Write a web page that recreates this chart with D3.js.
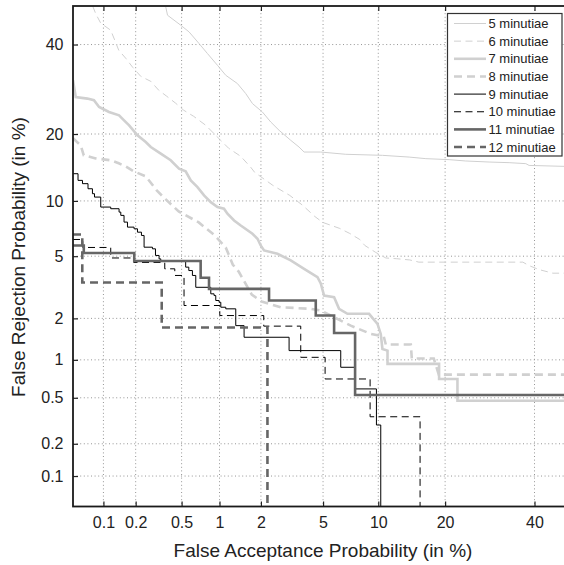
<!DOCTYPE html>
<html><head><meta charset="utf-8">
<script src="https://cdn.jsdelivr.net/npm/d3@7"></script>
<style>body{margin:0;background:#fff}text{font-family:"Liberation Sans",Arial,Helvetica,sans-serif}</style>
</head><body><svg id="c" width="564" height="565"></svg>
<script>
// ---- data (percent) ----
const tickValues = [0.1, 0.2, 0.5, 1, 2, 5, 10, 20, 40];
const tickLabels = ["0.1", "0.2", "0.5", "1", "2", "5", "10", "20", "40"];
const seriesNames = ["5 minutiae", "6 minutiae", "7 minutiae", "8 minutiae", "9 minutiae", "10 minutiae", "11 minutiae", "12 minutiae"];
const xTitle = "False Acceptance Probability (in %)";
const yTitle = "False Rejection Probability (in %)";

const far5 = [0.368,0.381,0.492,0.576,0.693,0.807,0.9645,1.115,1.361,1.563,1.745,2.048,2.335,2.654,3.162,3.569,3.839,4.846,6.739,10.49,14.04,16.64,20.74,24.02,29.04,33.71,37.81,38.63,48.11,50];
const frr5 = [49.76,47.58,44.97,43.23,40.25,37.73,34.84,32.44,30.50,28.24,26.06,24.29,22.28,20.69,18.86,17.69,16.85,16.85,16.48,16.31,16.03,15.78,15.62,15.41,15.25,15.15,15.0,14.73,14.58,14.58];

const far6 = [0.0787,0.0842,0.0942,0.1174,0.1282,0.1397,0.1623,0.1879,0.2221,0.2729,0.3206,0.3756,0.4471,0.5209,0.6277,0.7831,0.936,1.174,1.439,1.698,1.81,2.41,3.117,3.768,4.457,4.978,6.242,7.092,8.024,8.532,9.712,10.90,12.31,14.14,15.52,37.06,38.56,41.1,44.71,50];
const frr6 = [49.95,47.98,45.5,43.67,41.1,38.56,36.56,34.35,32.2,31.02,28.97,27.64,26.12,24.65,23.41,21.64,19.75,17.47,16.15,14.44,13.70,11.92,10.65,9.49,8.33,7.74,7.18,6.74,6.24,5.77,5.26,4.88,4.83,4.75,4.61,4.61,4.40,4.16,3.95,3.95];

const far7 = [0.05,0.0533,0.0697,0.0809,0.0908,0.113,0.1407,0.1565,0.1744,0.2077,0.2463,0.2729,0.3335,0.4053,0.476,0.540,0.5945,0.673,0.759,0.857,0.9645,1.081,1.148,1.286,1.439,1.745,1.893,1.993,2.102,2.588,3.162,3.839,4.633,4.846,5.07,5.795,6.184,6.889,8.979,9.91,10.29,10.49,11.11,11.11,18.91,18.91,22.35,22.35,50];
const frr7 = [31.26,27.48,27.13,26.77,25.33,24.29,23.62,22.61,21.64,19.75,18.55,17.69,16.59,15.52,14.25,13.85,12.58,11.69,10.65,9.86,9.31,9.13,8.60,7.93,7.45,6.71,6.30,5.77,5.40,5.17,4.72,4.20,3.73,3.405,2.848,2.778,2.324,2.15,2.15,1.831,1.555,1.208,1.174,0.931,0.931,0.710,0.710,0.473,0.473];

const far8 = [0.05,0.0598,0.0642,0.0842,0.1174,0.1397,0.1623,0.192,0.2463,0.3077,0.3682,0.4732,0.689,0.92,1.115,1.257,1.39,1.725,2.024,2.724,4.22,4.846,6.32,7.18,9.16,10.65,10.90,14.29,14.44,17.98,18.86,50];
const frr8 = [19.22,17.98,16.31,15.82,15.52,15.05,14.58,13.85,13.14,11.27,10.18,8.84,7.74,6.57,5.62,4.46,4.04,2.89,2.60,2.383,2.324,2.262,1.932,1.78,1.555,1.488,1.301,1.301,1.023,1.023,0.769,0.769];

const far9 = [0.05,0.0562,0.0623,0.0707,0.0782,0.0819,0.0942,0.1174,0.1407,0.146,0.1565,0.1684,0.1934,0.2077,0.2255,0.2381,0.2824,0.3,0.3224,0.3335,0.540,0.5727,0.6128,0.6522,0.857,0.9085,0.936,0.993,1.023,1.115,1.323,1.521,3.085,6.32,7.577,9.79,10.29];
const frr9 = [13.51,12.58,12.14,11.48,10.86,10.45,9.31,9.13,8.77,8.43,7.77,7.30,7.15,6.85,6.57,5.64,5.52,5.05,4.82,4.68,4.30,4.10,3.823,3.22,2.922,2.848,2.642,2.571,2.383,2.324,1.78,1.471,1.174,0.877,0.591,0.2937,0];

const far10 = [0.05,0.0627,0.1174,0.192,0.3609,0.4388,0.5237,1.005,2.092,3.659,5.14,9.09,15.71];
const frr10 = [6.24,5.62,4.88,4.59,4.20,3.823,2.447,2.092,1.766,1.045,0.710,0.3462,0];

const far11 = [0.05,0.0642,0.1942,0.7134,0.8302,2.273,4.524,5.795,7.577,50];
const frr11 = [5.77,5.22,4.68,3.697,3.147,2.642,2.092,1.58,0.5276,0.5276];

const far12 = [0.05,0.0620,0.3399,2.217];
const frr12 = [6.65,3.455,1.726,0];

// ---- styles ----
const LIGHT = "#d0d0d0", DARK = "#000", MID = "#666";
const styles = [
  {color: LIGHT, width: 1,   dash: null,  step: false},
  {color: LIGHT, width: 1,   dash: "7,4.5", step: false},
  {color: LIGHT, width: 2.6, dash: null,  step: false},
  {color: LIGHT, width: 2.6, dash: "8,5", step: false},
  {color: DARK,  width: 1,   dash: null,  step: true},
  {color: DARK,  width: 1,   dash: "7,4.5", step: true},
  {color: MID,   width: 2.6, dash: null,  step: true},
  {color: MID,   width: 2.6, dash: "8,5", step: true}
];
const fars = [far5, far6, far7, far8, far9, far10, far11, far12];
const frrs = [frr5, frr6, frr7, frr8, frr9, frr10, frr11, frr12];

// ---- inverse normal CDF (Acklam) ----
function probit(p) {
  const a=[-3.969683028665376e+01,2.209460984245205e+02,-2.759285104469687e+02,1.383577518672690e+02,-3.066479806614716e+01,2.506628277459239e+00];
  const b=[-5.447609879822406e+01,1.615858368580409e+02,-1.556989798598866e+02,6.680131188771972e+01,-1.328068155288572e+01];
  const c=[-7.784894002430293e-03,-3.223964580411365e-01,-2.400758277161838e+00,-2.549732539343734e+00,4.374664141464968e+00,2.938163982698783e+00];
  const d=[7.784695709041462e-03,3.224671290700398e-01,2.445134137142996e+00,3.754408661907416e+00];
  const pl=0.02425, ph=1-pl; let q, r;
  if (p < pl) { q=Math.sqrt(-2*Math.log(p)); return (((((c[0]*q+c[1])*q+c[2])*q+c[3])*q+c[4])*q+c[5])/((((d[0]*q+d[1])*q+d[2])*q+d[3])*q+1); }
  if (p <= ph) { q=p-0.5; r=q*q; return (((((a[0]*r+a[1])*r+a[2])*r+a[3])*r+a[4])*r+a[5])*q/(((((b[0]*r+b[1])*r+b[2])*r+b[3])*r+b[4])*r+1); }
  q=Math.sqrt(-2*Math.log(1-p)); return -(((((c[0]*q+c[1])*q+c[2])*q+c[3])*q+c[4])*q+c[5])/((((d[0]*q+d[1])*q+d[2])*q+d[3])*q+1);
}
const pr = v => probit(Math.max(v, 1e-4) / 100);

const L = 73, R = 573, T = 6, B = 506.5;
const dom = [pr(0.05), pr(50)];
const xs = d3.scaleLinear().domain(dom).range([L, R]);
const ys = d3.scaleLinear().domain(dom).range([B, T]);
const X = v => xs(pr(v)), Y = v => ys(pr(v));

const svg = d3.select("#c");
svg.append("rect").attr("width", 564).attr("height", 565).attr("fill", "#fff");

const tv = tickValues.map(pr);

// grid
const grid = svg.append("g").attr("stroke", "#8a8a8a").attr("stroke-width", 0.9).attr("stroke-dasharray", "1,2.6");
grid.selectAll(".gx").data(tickValues).join("line")
  .attr("x1", d => X(d)).attr("x2", d => X(d)).attr("y1", T).attr("y2", B);
grid.selectAll(".gy").data(tickValues).join("line")
  .attr("y1", d => Y(d)).attr("y2", d => Y(d)).attr("x1", L).attr("x2", R);

// curves
svg.append("clipPath").attr("id", "clip").append("rect")
  .attr("x", L).attr("y", T).attr("width", R - L).attr("height", B - T);
const cg = svg.append("g").attr("clip-path", "url(#clip)");
fars.forEach((fa, i) => {
  const st = styles[i];
  const pts = fa.map((v, j) => [v, frrs[i][j]]);
  const line = d3.line().x(d => X(d[0])).y(d => Y(d[1]))
    .curve(st.step ? d3.curveStepAfter : d3.curveLinear);
  cg.append("path").attr("d", line(pts)).attr("fill", "none")
    .attr("stroke", st.color).attr("stroke-width", st.width)
    .attr("stroke-dasharray", st.dash).attr("stroke-linejoin", "miter");
});

// axes
const fontAx = 16;
const xAxis = d3.axisBottom(xs).tickValues(tv).tickFormat((d, i) => tickLabels[i])
  .tickSizeInner(-5).tickSizeOuter(0).tickPadding(10);
const gx = svg.append("g").attr("transform", `translate(0,${B})`).call(xAxis);
const yAxis = d3.axisLeft(ys).tickValues(tv).tickFormat((d, i) => tickLabels[i])
  .tickSizeInner(-5).tickSizeOuter(0).tickPadding(9.5);
const gy = svg.append("g").attr("transform", `translate(${L},0)`).call(yAxis);
const gt = svg.append("g").attr("transform", `translate(0,${T})`)
  .call(d3.axisTop(xs).tickValues(tv).tickFormat("").tickSizeInner(-5).tickSizeOuter(0));
[gx, gy, gt].forEach(g => {
  g.attr("font-family", null).attr("font-size", null);
  g.selectAll(".domain").remove();
  g.selectAll(".tick line").attr("stroke", "#222").attr("stroke-width", 1.2);
  g.selectAll(".tick text").attr("fill", "#222").style("font-size", fontAx + "px")
    .style("font-family", '"Liberation Sans",Arial,sans-serif');
});

// frame
svg.append("rect").attr("x", L).attr("y", T).attr("width", R - L).attr("height", B - T)
  .attr("fill", "none").attr("stroke", "#1a1a1a").attr("stroke-width", 1.8);

// titles
svg.append("text").attr("x", (L + R) / 2).attr("y", 556.5).attr("text-anchor", "middle")
  .attr("font-size", 19).attr("fill", "#222").text(xTitle);
svg.append("text").attr("transform", `translate(25,257) rotate(-90)`).attr("text-anchor", "middle")
  .attr("font-size", 19).attr("fill", "#222").text(yTitle);

// legend
const lg = svg.append("g");
lg.append("rect").attr("x", 447.5).attr("y", 13.5).attr("width", 114.5).attr("height", 142.5)
  .attr("fill", "#fff").attr("stroke", "#333").attr("stroke-width", 1.2);
seriesNames.forEach((n, i) => {
  const yy = 23.5 + i * 17.65;
  const st = styles[i];
  lg.append("line").attr("x1", 454).attr("x2", 486).attr("y1", yy).attr("y2", yy)
    .attr("stroke", st.color).attr("stroke-width", st.width).attr("stroke-dasharray", st.dash);
  lg.append("text").attr("x", 488.5).attr("y", yy).attr("dy", "0.36em")
    .attr("font-size", 13).attr("fill", "#222").text(n);
});
</script></body></html>
